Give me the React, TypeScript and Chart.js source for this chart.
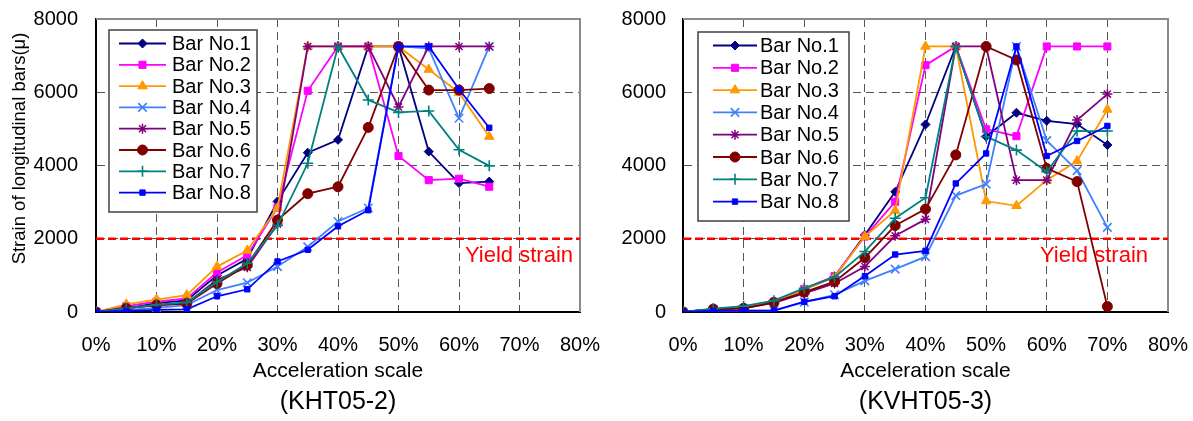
import React, { useEffect, useRef } from 'react';
import { Chart, registerables } from 'chart.js';
import { drawPoint } from 'chart.js/helpers';

Chart.register(...registerables);

// ---------- data ----------
const seriesNames = ['Bar No.1', 'Bar No.2', 'Bar No.3', 'Bar No.4', 'Bar No.5', 'Bar No.6', 'Bar No.7', 'Bar No.8'];

// KHT05-2
const accelLeft = [0, 5, 10, 15, 20, 25, 30, 35, 40, 45, 50, 55, 60, 65];
const khtBar1 = [0, 100, 240, 320, 1000, 1450, 3020, 4350, 4700, 7250, 7250, 4380, 3520, 3560];
const khtBar2 = [0, 160, 280, 370, 1080, 1550, 2850, 6040, 7250, 7250, 4260, 3600, 3640, 3420];
const khtBar3 = [0, 210, 340, 460, 1240, 1680, 2840, 7250, 7250, 7250, 7250, 6620, 5990, 4790];
const khtBar4 = [0, 50, 110, 190, 600, 800, 1240, 1780, 2470, 2840, 7250, 7200, 5290, 7250];
const khtBar5 = [0, 110, 180, 240, 880, 1220, 2400, 7250, 7250, 7250, 5600, 7250, 7250, 7250];
const khtBar6 = [0, 100, 190, 230, 780, 1280, 2510, 3230, 3420, 5040, 7250, 6060, 6060, 6100];
const khtBar7 = [0, 100, 200, 260, 820, 1330, 2360, 4060, 7250, 5790, 5450, 5490, 4430, 3990];
const khtBar8 = [0, 30, 60, 70, 430, 620, 1380, 1700, 2340, 2780, 7250, 7250, 6080, 5030];

// KVHT05-3
const accelRight = [0, 5, 10, 15, 20, 25, 30, 35, 40, 45, 50, 55, 60, 65, 70];
const kvhtBar1 = [0, 80, 110, 280, 620, 960, 2100, 3280, 5120, 7250, 4790, 5440, 5220, 5130, 4560];
const kvhtBar2 = [0, 80, 110, 280, 630, 980, 2060, 3010, 6740, 7250, 4990, 4800, 7250, 7250, 7250];
const kvhtBar3 = [0, 80, 110, 280, 610, 960, 2060, 2770, 7250, 7250, 3030, 2900, 3600, 4120, 5530];
const kvhtBar4 = [0, 30, 40, 40, 270, 470, 850, 1170, 1510, 3180, 3490, 7250, 4680, 3860, 2310];
const kvhtBar5 = [0, 70, 100, 250, 510, 780, 1240, 2080, 2530, 7250, 7250, 3600, 3600, 5240, 5950];
const kvhtBar6 = [0, 80, 100, 260, 540, 830, 1480, 2360, 2810, 4290, 7250, 6880, 3920, 3560, 150];
const kvhtBar7 = [0, 90, 160, 310, 650, 950, 1650, 2560, 3120, 7250, 4790, 4420, 3830, 4940, 4940];
const kvhtBar8 = [0, 30, 40, 40, 280, 430, 980, 1570, 1670, 3510, 4330, 7250, 4260, 4670, 5080];

const yieldX = [0, 80];
const yieldY = [2000, 2000];
const yieldText = 'Yield strain';

const xMin = 0;
const xMax = 80;
const xStep = 10;
const yMin = 0;
const yMax = 8000;
const yStep = 2000;

const xAxisTitle = 'Acceleration scale';
const yAxisTitle = 'Strain of longitudinal bars(μ)';
const leftCaption = '(KHT05-2)';
const rightCaption = '(KVHT05-3)';

// ---------- styles ----------
const FONT = '"Liberation Sans", Arial, Helvetica, sans-serif';
const seriesColors = ['#000080', '#FF00FF', '#FF9900', '#3F80FF', '#800080', '#800000', '#008080', '#0000FF'];
const seriesMarkers = ['rectRot', 'rect', 'triangle', 'crossRot', 'star', 'circle', 'cross', 'rect'];
const markerRadius = [4.5, 5, 5.5, 6, 5, 5, 5.5, 3.8];
const markerBorder = [1, 1, 1, 1.6, 1.5, 1, 1.6, 1];

Chart.defaults.color = '#000';
Chart.defaults.font.family = FONT;

const framePlugin = {
  id: 'plotFrame',
  beforeDatasetsDraw(chart: any) {
    const { ctx, chartArea: a } = chart;
    ctx.save();
    ctx.strokeStyle = '#8a8a8a';
    ctx.lineWidth = 2;
    ctx.beginPath();
    ctx.moveTo(a.left, a.top);
    ctx.lineTo(a.right, a.top);
    ctx.lineTo(a.right, a.bottom);
    ctx.stroke();
    ctx.restore();
  },
};

const yieldLabelPlugin = {
  id: 'yieldLabel',
  afterDatasetsDraw(chart: any, _args: any, opts: any) {
    const { ctx, chartArea: a, scales } = chart;
    const y = scales.y.getPixelForValue(yieldY[0]);
    ctx.save();
    ctx.fillStyle = '#FF0000';
    ctx.font = `22px ${FONT}`;
    ctx.textAlign = 'right';
    ctx.textBaseline = 'middle';
    ctx.fillText(yieldText, a.right - opts.inset, y + 17);
    ctx.restore();
  },
};

const boxLegendPlugin = {
  id: 'boxLegend',
  afterDatasetsDraw(chart: any, _args: any, o: any) {
    const { ctx } = chart;
    ctx.save();
    ctx.fillStyle = '#fff';
    ctx.fillRect(o.left, o.top, o.width, o.height);
    ctx.strokeStyle = '#404040';
    ctx.lineWidth = 1.5;
    ctx.strokeRect(o.left, o.top, o.width, o.height);
    const ds = chart.data.datasets.filter((d: any) => d.inLegend);
    ds.forEach((d: any, i: number) => {
      const y = o.firstRow + i * o.rowHeight;
      ctx.strokeStyle = d.borderColor;
      ctx.lineWidth = d.borderWidth;
      ctx.setLineDash([]);
      ctx.beginPath();
      ctx.moveTo(o.lineX0, y);
      ctx.lineTo(o.lineX1, y);
      ctx.stroke();
      ctx.fillStyle = d.pointBackgroundColor;
      ctx.strokeStyle = d.pointBorderColor;
      ctx.lineWidth = d.pointBorderWidth;
      drawPoint(ctx, { pointStyle: d.pointStyle, rotation: 0, radius: d.pointRadius, borderWidth: d.pointBorderWidth }, (o.lineX0 + o.lineX1) / 2, y);
      ctx.fillStyle = '#000';
      ctx.font = `20px ${FONT}`;
      ctx.textAlign = 'left';
      ctx.textBaseline = 'middle';
      ctx.fillText(d.label, o.textX, y + 1);
    });
    ctx.restore();
  },
};

const yTitlePlugin = {
  id: 'yTitle',
  afterDraw(chart: any, _args: any, o: any) {
    if (!o || !o.show) return;
    const { ctx } = chart;
    ctx.save();
    ctx.translate(o.x, o.y);
    ctx.rotate(-Math.PI / 2);
    ctx.fillStyle = '#000';
    ctx.font = `18.5px ${FONT}`;
    ctx.textAlign = 'center';
    ctx.textBaseline = 'middle';
    ctx.fillText(yAxisTitle, 0, 0);
    ctx.restore();
  },
};

type ChartCfg = {
  width: number;
  xs: number[];
  series: number[][];
  caption: string;
  yWidth: number;
  yTickPad: number;
  rightPad: number;
  yieldInset: number;
  legend: any;
  yTitle: any;
};

function buildConfig(c: ChartCfg): any {
  const datasets: any[] = c.series.map((vals, i) => ({
    label: seriesNames[i],
    inLegend: true,
    data: c.xs.map((x, k) => ({ x, y: vals[k] })),
    borderColor: seriesColors[i],
    backgroundColor: seriesColors[i],
    borderWidth: 1.8,
    pointStyle: seriesMarkers[i],
    pointRadius: markerRadius[i],
    pointBackgroundColor: seriesColors[i],
    pointBorderColor: seriesColors[i],
    pointBorderWidth: markerBorder[i],
    tension: 0,
    order: 8 - i,
  }));
  datasets.push({
    label: yieldText,
    inLegend: false,
    data: yieldX.map((x, k) => ({ x, y: yieldY[k] })),
    borderColor: '#FF0000',
    borderWidth: 2.5,
    borderDash: [8, 4],
    pointRadius: 0,
    order: 100,
  });
  return {
    type: 'line',
    data: { datasets },
    options: {
      responsive: false,
      animation: false,
      events: [],
      layout: { padding: { left: 0, right: c.rightPad, top: 19, bottom: 0 } },
      scales: {
        x: {
          type: 'linear',
          min: xMin,
          max: xMax,
          ticks: {
            stepSize: xStep,
            callback: (v: any) => `${v}%`,
            font: { size: 20 },
            color: '#000',
            padding: 21,
            maxRotation: 0,
          },
          grid: { color: '#555', lineWidth: 1, drawTicks: false },
          border: { color: '#000', width: 2, dash: [8, 5] },
          title: {
            display: true,
            text: xAxisTitle,
            font: { size: 21 },
            color: '#000',
            padding: { top: 0, bottom: 3.5 },
          },
          afterFit: (s: any) => {
            s.height = 75;
            s.paddingLeft = 0;
            s.paddingRight = 0;
          },
        },
        y: {
          type: 'linear',
          min: yMin,
          max: yMax,
          ticks: {
            stepSize: yStep,
            callback: (v: any) => String(v),
            font: { size: 20 },
            color: '#000',
            padding: c.yTickPad,
          },
          grid: { color: '#555', lineWidth: 1, drawTicks: false },
          border: { color: '#000', width: 2, dash: [8, 5] },
          afterFit: (s: any) => {
            s.width = c.yWidth;
            s.paddingTop = 0;
            s.paddingBottom = 0;
          },
        },
      },
      plugins: {
        legend: { display: false },
        tooltip: { enabled: false },
        title: {
          display: true,
          fullSize: false,
          position: 'bottom',
          text: c.caption,
          color: '#000',
          font: { size: 25, weight: 'normal' },
          padding: { top: 0, bottom: 4 },
        },
        boxLegend: c.legend,
        yieldLabel: { inset: c.yieldInset },
        yTitle: c.yTitle,
      },
    },
    plugins: [framePlugin, yieldLabelPlugin, boxLegendPlugin, yTitlePlugin],
  };
}

const leftCfg: ChartCfg = {
  width: 600,
  xs: accelLeft,
  series: [khtBar1, khtBar2, khtBar3, khtBar4, khtBar5, khtBar6, khtBar7, khtBar8],
  caption: leftCaption,
  yWidth: 96,
  yTickPad: 18,
  rightPad: 20,
  yieldInset: 7,
  legend: { left: 109, top: 30, width: 148, height: 182, firstRow: 43.5, rowHeight: 21.3, lineX0: 119, lineX1: 166, textX: 172 },
  yTitle: { show: true, x: 19.5, y: 148.5 },
};

const rightCfg: ChartCfg = {
  width: 593,
  xs: accelRight,
  series: [kvhtBar1, kvhtBar2, kvhtBar3, kvhtBar4, kvhtBar5, kvhtBar6, kvhtBar7, kvhtBar8],
  caption: rightCaption,
  yWidth: 83,
  yTickPad: 17,
  rightPad: 25,
  yieldInset: 20,
  legend: { left: 98, top: 32, width: 151, height: 189, firstRow: 45.5, rowHeight: 22.3, lineX0: 113, lineX1: 157, textX: 160 },
  yTitle: { show: false },
};

function StrainChart({ cfg }: { cfg: ChartCfg }) {
  const ref = useRef<HTMLCanvasElement>(null);
  useEffect(() => {
    const chart = new Chart(ref.current as HTMLCanvasElement, buildConfig(cfg));
    return () => chart.destroy();
  }, [cfg]);
  return <canvas ref={ref} width={cfg.width} height={421} style={{ display: 'block', width: cfg.width, height: 421 }} />;
}

export default function App() {
  return (
    <div style={{ position: 'absolute', left: 0, top: 0, width: 1193, height: 421, display: 'flex', background: '#fff' }}>
      <StrainChart cfg={leftCfg} />
      <StrainChart cfg={rightCfg} />
    </div>
  );
}
